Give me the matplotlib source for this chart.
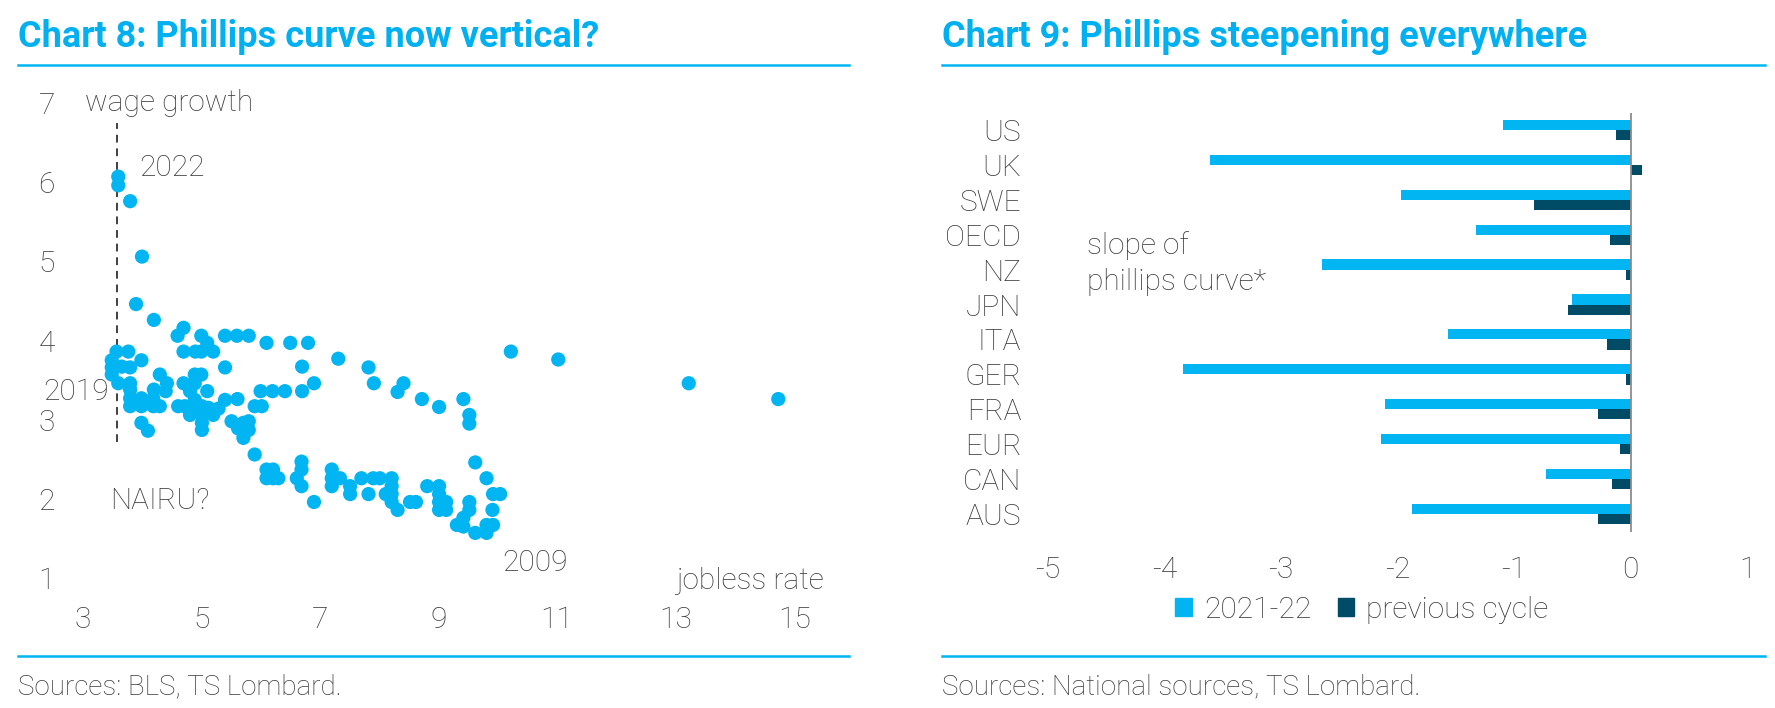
import matplotlib
matplotlib.use('Agg')
import matplotlib.pyplot as plt
from matplotlib.lines import Line2D
from matplotlib.patches import Patch

plt.rcParams['font.family'] = ['Roboto', 'DejaVu Sans']
plt.rcParams['axes.unicode_minus'] = False

BLUE = '#00B5F1'
DARK = '#004B66'
TXT = '#3A3A3A'
W, H = 1775, 708
FS = 21.5

# Chart 8: US jobless rate vs wage growth
jobless_rate = [3.6, 3.6, 3.8, 4.0, 3.9, 4.2, 4.6, 4.7, 5.0, 5.1, 5.2, 5.4, 5.6, 5.8, 6.1, 6.5, 6.8,
                4.7, 4.9, 5.0, 3.57, 3.77, 3.49, 3.99, 3.49, 3.66, 3.8, 3.49, 3.6, 3.8, 3.8,
                4.3, 4.42, 4.2, 4.4, 4.19, 4.3, 4.19, 3.99, 3.99, 3.8, 3.8, 3.99, 4.1,
                4.7, 4.81, 4.89, 5.0, 5.1, 4.89, 4.89, 5.01, 4.92, 4.81, 5.01, 5.01, 5.01, 4.61, 4.72,
                5.29, 5.2, 5.12, 5.4, 5.4, 5.61, 5.51, 5.62, 5.71, 5.8, 5.8, 5.71, 5.9, 6.02,
                6.0, 6.2, 6.41, 6.7, 6.7, 6.9, 7.31, 7.82, 7.91, 8.31, 8.41, 8.72, 9.01, 9.42,
                9.52, 9.52, 10.22, 11.02, 13.22, 14.73,
                5.9, 6.1, 6.21, 6.1, 6.21, 6.3, 6.69, 6.69, 6.61, 6.69, 6.9, 7.2, 7.2, 7.2, 7.34,
                7.51, 7.51, 7.7, 7.82, 7.9, 8.01, 8.11, 8.21, 8.21, 8.21, 8.21, 8.31, 8.52, 8.62,
                8.81, 9.01, 9.01, 9.01, 9.01, 9.13, 9.13, 9.52, 9.52, 9.42, 9.31, 9.42, 9.62,
                9.81, 9.81, 9.92, 9.91, 9.92, 10.04, 9.81, 9.62]
wage_growth = [6.07, 5.96, 5.76, 5.06, 4.46, 4.26, 4.06, 4.16, 4.06, 3.97, 3.86, 4.06, 4.06, 4.06, 3.97, 3.97, 3.97,
               3.86, 3.86, 3.86, 3.86, 3.86, 3.75, 3.75, 3.66, 3.67, 3.66, 3.57, 3.46, 3.46, 3.38,
               3.57, 3.46, 3.38, 3.36, 3.27, 3.17, 3.17, 3.27, 3.17, 3.27, 3.17, 2.96, 2.86,
               3.46, 3.36, 3.57, 3.57, 3.36, 3.46, 3.25, 3.17, 3.17, 3.06, 3.06, 2.96, 2.87, 3.17, 3.17,
               3.14, 3.06, 3.15, 3.66, 3.25, 3.26, 2.98, 2.89, 2.96, 2.98, 2.87, 2.77, 3.17, 3.17,
               3.36, 3.36, 3.36, 3.36, 3.67, 3.46, 3.77, 3.66, 3.46, 3.35, 3.46, 3.26, 3.16, 3.26,
               3.06, 2.95, 3.86, 3.76, 3.46, 3.26,
               2.56, 2.37, 2.37, 2.26, 2.26, 2.26, 2.47, 2.37, 2.26, 2.16, 1.96, 2.37, 2.26, 2.16, 2.26,
               2.16, 2.06, 2.26, 2.06, 2.26, 2.26, 2.06, 2.26, 2.16, 2.06, 1.96, 1.86, 1.96, 1.96,
               2.16, 2.16, 2.06, 1.96, 1.86, 1.96, 1.86, 1.96, 1.86, 1.76, 1.67, 1.65, 1.57,
               1.57, 1.67, 1.67, 1.86, 2.06, 2.06, 2.26, 2.46]
nairu = 3.57
x_ticks8 = [3, 5, 7, 9, 11, 13, 15]
y_ticks8 = [1, 2, 3, 4, 5, 6, 7]

# Chart 9: slope of phillips curve
countries = ['US', 'UK', 'SWE', 'OECD', 'NZ', 'JPN', 'ITA', 'GER', 'FRA', 'EUR', 'CAN', 'AUS']
slope_2122 = [-1.10, -3.61, -1.97, -1.33, -2.65, -0.50, -1.57, -3.84, -2.11, -2.14, -0.73, -1.88]
slope_prev = [-0.13, 0.10, -0.83, -0.18, -0.04, -0.54, -0.20, -0.04, -0.28, -0.09, -0.16, -0.28]
x_ticks9 = [-5, -4, -3, -2, -1, 0, 1]

fig = plt.figure(figsize=(W / 100, H / 100), dpi=100)


def fx(px):
    return px / W


def fy(py):
    return 1 - py / H


# ---- left panel
ax1 = fig.add_axes([fx(82.7), fy(578), fx(794.3 - 82.7), (578 - 103) / H])
ax1.scatter(jobless_rate, wage_growth, s=105, color=BLUE, edgecolors='none', zorder=3)
ax1.plot([nairu, nairu], [2.72, 6.75], color='#404040', lw=1.4, dashes=(4, 3), zorder=2)
ax1.set_xlim(3, 15)
ax1.set_ylim(1, 7)
ax1.set_xticks(x_ticks8)
ax1.set_yticks(y_ticks8)
ax1.tick_params(axis='x', length=0, pad=20, labelsize=FS, labelcolor=TXT)
ax1.tick_params(axis='y', length=0, pad=20, labelsize=FS, labelcolor=TXT)
for s in ax1.spines.values():
    s.set_visible(False)
for lab in ax1.get_xticklabels() + ax1.get_yticklabels():
    lab.set_fontweight('light')

tk = dict(fontsize=FS, color=TXT, fontweight='light', va='center', ha='left')
ax1.text(3.04, 7.0, 'wage growth', **tk)
ax1.text(3.95, 6.18, '2022', **tk)
ax1.text(2.33, 3.35, '2019', clip_on=False, **tk)
ax1.text(3.46, 1.97, 'NAIRU?', **tk)
ax1.text(10.07, 1.19, '2009', **tk)
ax1.text(13.0, 0.96, 'jobless rate', **tk)

# ---- right panel
ax2 = fig.add_axes([fx(1047.7), fy(531.5), fx(1747.4 - 1047.7), (531.5 - 112.5) / H])
pos = list(range(len(countries)))
h = 0.29
ax2.barh([p - h / 2 for p in pos], slope_2122, height=h, color=BLUE, label='2021-22', zorder=2)
ax2.barh([p + h / 2 for p in pos], slope_prev, height=h, color=DARK, label='previous cycle', zorder=2)
ax2.axvline(0, color='#8C8C8C', lw=1.3, zorder=3)
ax2.set_xlim(-5, 1)
ax2.set_ylim(11.5, -0.5)
ax2.set_yticks(pos)
ax2.set_yticklabels(countries)
ax2.set_xticks(x_ticks9)
ax2.tick_params(axis='x', length=0, pad=18, labelsize=FS, labelcolor=TXT)
ax2.tick_params(axis='y', length=0, pad=19, labelsize=FS, labelcolor=TXT)
for s in ax2.spines.values():
    s.set_visible(False)
for lab in ax2.get_xticklabels() + ax2.get_yticklabels():
    lab.set_fontweight('light')
ax2.text(-4.66, 3.30, 'slope of', **tk)
ax2.text(-4.66, 4.35, 'phillips curve*', **tk)

handles = [Patch(color=BLUE), Patch(color=DARK)]
fig.legend(handles, ['2021-22', 'previous cycle'], loc='center', bbox_to_anchor=(fx(1362), fy(610)),
           ncol=2, frameon=False, handlelength=0.55, handleheight=0.55, handletextpad=0.4,
           columnspacing=0.9, prop=dict(family='Roboto', weight='light', size=FS), labelcolor=TXT)

# ---- titles, rules and sources
for x0, x1, title, src in [(18, 849, 'Chart 8: Phillips curve now vertical?', 'Sources: BLS, TS Lombard.'),
                           (942, 1765, 'Chart 9: Phillips steepening everywhere',
                            'Sources: National sources, TS Lombard.')]:
    fig.text(fx(x0), fy(46.7), title, fontsize=26, fontweight='bold', color='#00B0F0', va='baseline')
    fig.add_artist(Line2D([fx(x0), fx(x1)], [fy(65), fy(65)], color=BLUE, lw=1.8))
    fig.add_artist(Line2D([fx(x0), fx(x1)], [fy(655.7), fy(655.7)], color=BLUE, lw=1.8))
    fig.text(fx(x0), fy(686.5), src, fontsize=20, fontweight='light', color=TXT, va='center')

fig.savefig('out.png', dpi=100)
